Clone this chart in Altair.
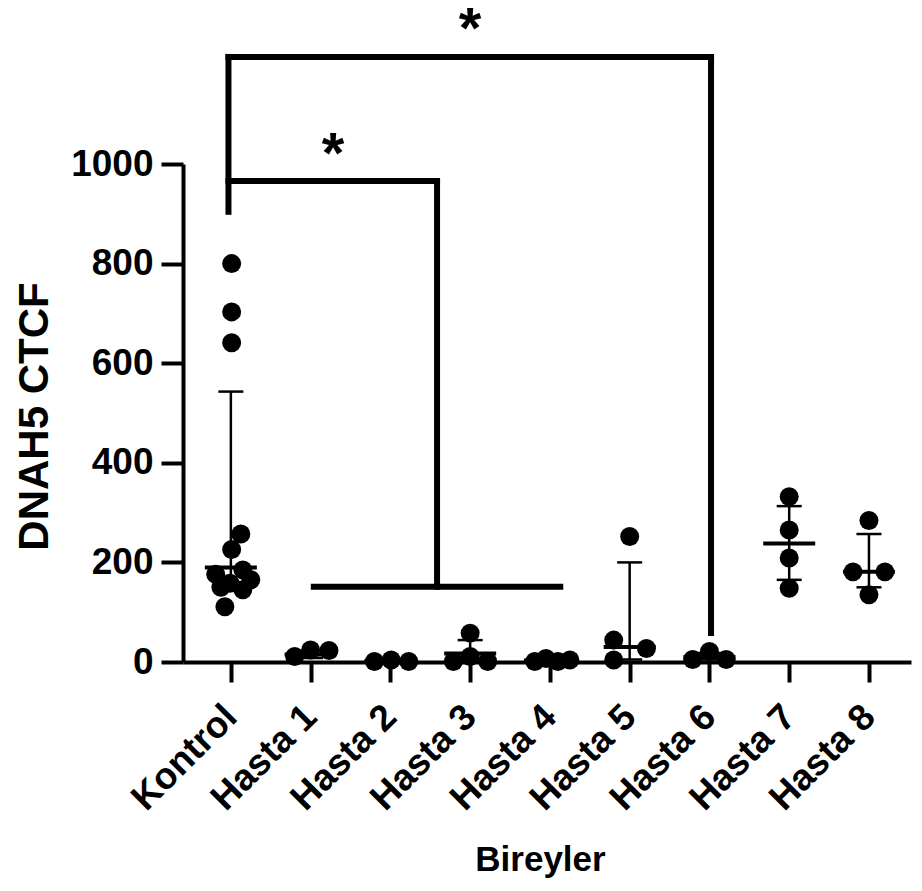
import altair as alt
import pandas as pd

categories = ["Kontrol", "Hasta 1", "Hasta 2", "Hasta 3", "Hasta 4",
              "Hasta 5", "Hasta 6", "Hasta 7", "Hasta 8"]

# individual measurements per group (DNAH5 CTCF)
values = [
    [800, 703, 641, 257, 226, 185, 176, 165, 158, 150, 145, 111],
    [11, 24, 23],
    [1, 4, 1],
    [1, 11, 1, 58],
    [1, 7, 1, 4],
    [44, 27, 4, 252],
    [5, 21, 5],
    [332, 265, 209, 148],
    [284, 181, 181, 135],
]
# horizontal scatter of the dots, in category units
spread = [
    [0.01, 0.01, 0.01, 0.125, 0.01, 0.15, -0.19, 0.25, -0.01, -0.125, 0.15, -0.075],
    [-0.2, 0.0, 0.23],
    [-0.2, 0.01, 0.23],
    [-0.21, 0.0, 0.22, 0.0],
    [-0.19, -0.05, 0.1, 0.25],
    [-0.2, 0.21, -0.2, 0.0],
    [-0.21, 0.0, 0.21],
    [0.0, 0.0, 0.0, 0.0],
    [0.0, -0.2, 0.2, 0.0],
]
centers = [190, 15, 2, 17, 3, 30, 10, 238, 181]
err_low = [150, 8, 0, 0, 1, 5, 5, 165, 150]
err_high = [543, 22, 4, 44, 6, 200, 18, 313, 257]

# significance brackets (category position, value)
bracket_x = [-0.03, -0.03, 6.02, -0.03, -0.03, 2.585, 1.04]
bracket_x2 = [-0.03, 6.02, 6.02, -0.03, 2.585, 2.585, 4.13]
bracket_y = [978, 1215, 1215, 904, 966, 966, 151]
bracket_y2 = [1215, 1215, 58, 966, 966, 151, 151]
star_x = [1.28, 3.0]
star_y = [1038, 1289]
star_text = ["*", "*"]

pts = pd.DataFrame([
    {"x": i + s, "v": v}
    for i, (vals, sp) in enumerate(zip(values, spread))
    for v, s in zip(vals, sp)
])
summ = pd.DataFrame({"x": list(range(len(categories))), "c": centers,
                     "lo": err_low, "hi": err_high})
br = pd.DataFrame({"x": bracket_x, "x2": bracket_x2, "y": bracket_y, "y2": bracket_y2})
st = pd.DataFrame({"x": star_x, "y": star_y, "t": star_text})

FONT = "Liberation Sans"
xscale = alt.Scale(domain=[-0.6, 8.527], nice=False, zero=False)
yscale = alt.Scale(domain=[0, 1000], nice=False)

label_expr = "[" + ",".join("'" + c + "'" for c in categories) + "][datum.value]"

xaxis = alt.Axis(values=list(range(len(categories))), labelExpr=label_expr,
                 labelAngle=-45, labelFontSize=37, labelFontWeight="bold",
                 labelFont=FONT, labelColor="black", labelPadding=29,
                 labelBaseline="middle", labelAlign="right",
                 labelOverlap=False, labelBound=False, labelFlush=False,
                 tickSize=20, tickWidth=4, tickColor="black",
                 domainWidth=4, domainColor="black", grid=False,
                 title="Bireyler", titleFont=FONT, titleFontSize=35,
                 titleFontWeight="bold", titleColor="black",
                 titleX=357, titleY=208, titleBaseline="alphabetic")
yaxis = alt.Axis(values=[0, 200, 400, 600, 800, 1000], format="d",
                 labelFontSize=37, labelOverlap=False,
                 labelFontWeight="bold", labelFont=FONT, labelColor="black",
                 labelPadding=8, tickSize=22, tickWidth=4, tickColor="black",
                 domainWidth=4, domainColor="black", grid=False,
                 title="DNAH5 CTCF", titleFont=FONT, titleFontSize=42,
                 titleFontWeight="bold", titleColor="black",
                 titleX=-136, titleY=252, titleBaseline="alphabetic")

X = lambda f: alt.X(f, scale=xscale, axis=xaxis)
Y = lambda f: alt.Y(f, scale=yscale, axis=yaxis)

points = alt.Chart(pts).mark_circle(size=360, color="black", opacity=1).encode(
    x=X("x:Q"), y=Y("v:Q"),
)
errbar = alt.Chart(summ).mark_rule(color="black", strokeWidth=2.5).encode(
    x=X("x:Q"), y=Y("lo:Q"), y2="hi:Q",
)
cap_hi = alt.Chart(summ).mark_tick(color="black", thickness=2.5, size=25,
                                   orient="horizontal", opacity=1).encode(
    x=X("x:Q"), y=Y("hi:Q"),
)
cap_lo = alt.Chart(summ).mark_tick(color="black", thickness=2.5, size=25,
                                   orient="horizontal", opacity=1).encode(
    x=X("x:Q"), y=Y("lo:Q"),
)
center = alt.Chart(summ).mark_tick(color="black", thickness=4, size=52,
                                   orient="horizontal", opacity=1).encode(
    x=X("x:Q"), y=Y("c:Q"),
)
brackets = alt.Chart(br).mark_rule(color="black", strokeWidth=6,
                                   strokeCap="square", clip=False).encode(
    x=X("x:Q"), x2="x2:Q", y=Y("y:Q"), y2="y2:Q",
)
stars = alt.Chart(st).mark_text(font=FONT, fontSize=58, fontWeight="bold",
                                color="black", baseline="alphabetic", dy=28,
                                clip=False).encode(
    x=X("x:Q"), y=Y("y:Q"), text="t:N",
)

chart = alt.layer(points, errbar, cap_hi, cap_lo, center, brackets, stars).properties(
    width=728, height=498,
    padding={"left": 175, "top": 156, "right": 1, "bottom": 216},
    autosize=alt.AutoSizeParams(type="none"),
    background="white",
).configure_view(stroke=None)

chart.save("out.html", embed_options={"renderer": "svg", "actions": False})
